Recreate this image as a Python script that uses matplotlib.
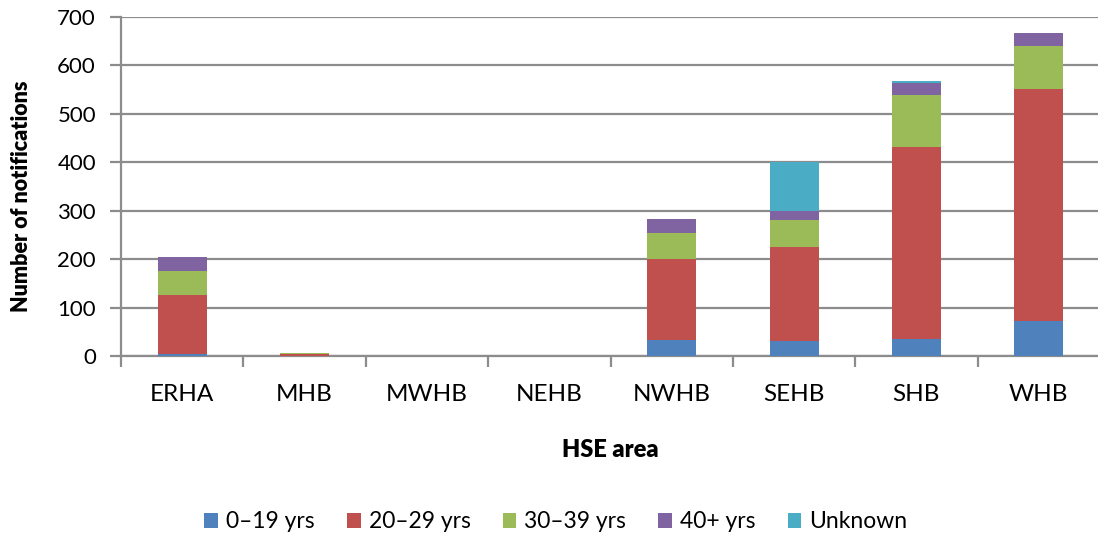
import numpy as np
import matplotlib.pyplot as plt

areas = ['ERHA', 'MHB', 'MWHB', 'NEHB', 'NWHB', 'SEHB', 'SHB', 'WHB']
age_groups = ['0\u201319 yrs', '20\u201329 yrs', '30\u201339 yrs', '40+ yrs', 'Unknown']

age_0_19 = [5, 0, 0, 0, 33, 31, 35, 72]
age_20_29 = [121, 5, 0, 0, 168, 194, 396, 479]
age_30_39 = [50, 1, 0, 0, 54, 55, 107, 90]
age_40_plus = [28, 0, 0, 0, 28, 19, 26, 25]
unknown = [1, 0, 0, 0, 0, 101, 4, 0]

colors = ['#4F81BD', '#C0504D', '#9BBB59', '#8064A2', '#4BACC6']

plt.rcParams['font.family'] = ['Lato', 'DejaVu Sans']

fig = plt.figure(figsize=(10.98, 5.39), dpi=100)
ax = fig.add_axes([121 / 1098, 1 - 356 / 539, (1100 - 121) / 1098, (356 - 17) / 539])

x = np.arange(len(areas))
bottom = np.zeros(len(areas))
for vals, lab, col in zip([age_0_19, age_20_29, age_30_39, age_40_plus, unknown], age_groups, colors):
    ax.bar(x, vals, width=0.4, bottom=bottom, color=col, label=lab, zorder=3)
    bottom += np.array(vals)

ax.set_xlim(-0.5, len(areas) - 0.5)
ax.set_ylim(0, 700)
ax.set_yticks(range(0, 701, 100))
ax.grid(axis='y', color='#8c8c8c', linewidth=1.6, zorder=0)

ax.set_xticks(x)
ax.set_xticklabels(areas, fontsize=17.5)
ax.set_xticks(np.arange(-0.5, len(areas), 1), minor=True)
ax.tick_params(axis='x', which='major', length=0, pad=20)
ax.tick_params(axis='x', which='minor', length=8, width=1.6, color='#8c8c8c')
ax.tick_params(axis='y', length=8, width=1.6, color='#8c8c8c', labelsize=16, pad=10)

for side in ['top', 'right']:
    ax.spines[side].set_visible(False)
for side in ['left', 'bottom']:
    ax.spines[side].set_color('#8c8c8c')
    ax.spines[side].set_linewidth(1.6)

# axis titles placed directly so the rotated label lands where the original one is
fig.text(22 / 1098, 1 - 196 / 539, 'Number of notifications', rotation=90, ha='center', va='center',
         fontsize=15.5, fontweight='heavy')
ax.set_xlabel('HSE area', fontsize=17, fontweight='heavy', va='center')
ax.xaxis.set_label_coords(0.5, (356 - 450) / 339)

fig.legend(loc='center', bbox_to_anchor=(556 / 1098, 1 - 522 / 539), ncol=5, frameon=False,
           fontsize=16.5, handlelength=0.6, handleheight=0.6, handletextpad=0.35, columnspacing=1.4)

fig.savefig('out.png', dpi=100)
